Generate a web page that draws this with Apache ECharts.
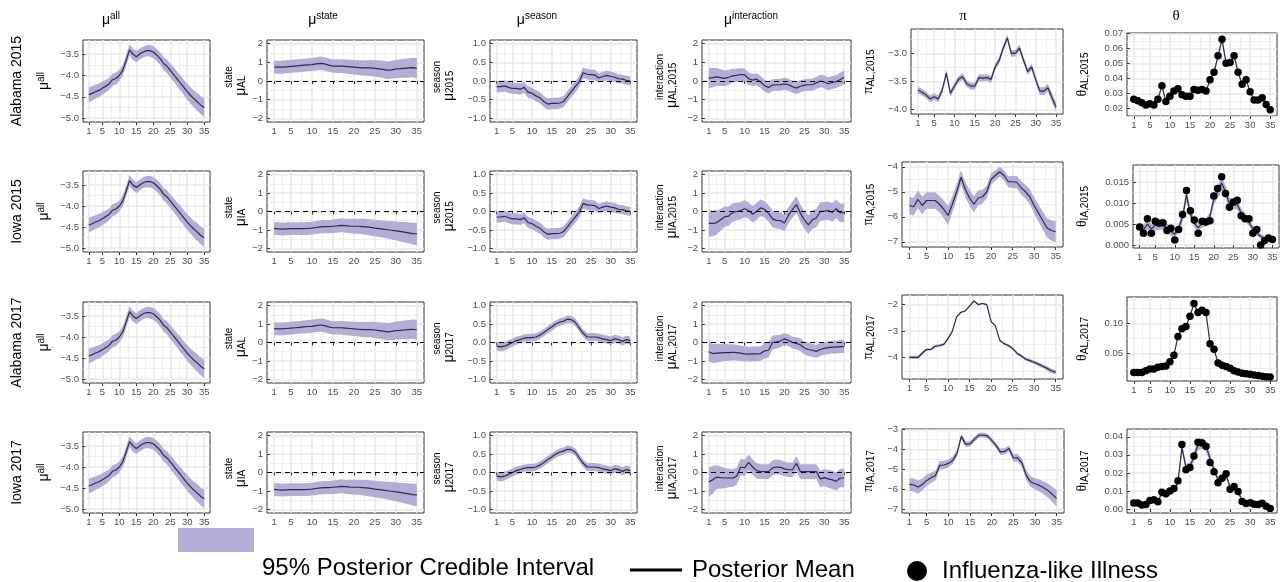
<!DOCTYPE html>
<html>
<head>
<meta charset="utf-8">
<script src="https://cdn.jsdelivr.net/npm/echarts@6/dist/echarts.min.js"></script>
<style>
html, body { margin: 0; padding: 0; background: #fff; }
#main { width: 1282px; height: 582px; }
</style>
</head>
<body>
<div id="main"></div>
<script>
// weeks of the season
const weeks = [1,2,3,4,5,6,7,8,9,10,11,12,13,14,15,16,17,18,19,20,21,22,23,24,25,26,27,28,29,30,31,32,33,34,35];
const xTicks = [1, 5, 10, 15, 20, 25, 30, 35];

// mu all (same in every row)
const muAll = [-4.45,-4.42,-4.38,-4.35,-4.30, -4.25,-4.20,-4.10,-4.07,-4.00, -3.88,-3.65,-3.40,-3.50,-3.56,
  -3.50,-3.45,-3.42,-3.42,-3.45, -3.52,-3.60,-3.72,-3.78,-3.88, -3.98,-4.08,-4.18,-4.28,-4.38, -4.47,-4.55,-4.62,-4.70,-4.75];
const muAllHw = [.17,.17,.16,.16,.15, .15,.14,.14,.14,.13, .13,.13,.13,.13,.13, .13,.13,.13,.14,.14,
  .14,.15,.15,.16,.16, .17,.17,.18,.18,.19, .19,.20,.21,.21,.22];

// mu state
const stateAL = [.75,.74,.74,.76,.78, .80,.82,.85,.87,.88, .92,.95,.92,.85,.80, .80,.80,.78,.76,.74,
  .72,.70,.70,.70,.68, .65,.62,.58,.60,.65, .66,.68,.70,.72,.68];
const stateALHw = [.35,.35,.35,.35,.35, .35,.35,.35,.35,.35, .35,.36,.36,.36,.36, .37,.37,.38,.38,.39,
  .40,.41,.42,.43,.44, .45,.46,.47,.48,.49, .50,.51,.52,.53,.55];
const stateIA = [-.92,-.94,-.96,-.94,-.93, -.93,-.93,-.93,-.92,-.90, -.87,-.84,-.82,-.82,-.80, -.78,-.75,-.77,-.79,-.80,
  -.80,-.82,-.84,-.86,-.90, -.93,-.96,-.99,-1.02,-1.05, -1.08,-1.12,-1.16,-1.20,-1.22];
const stateIAHw = [.35,.35,.35,.35,.35, .35,.35,.35,.35,.35, .35,.36,.36,.36,.37, .37,.38,.38,.39,.40,
  .41,.42,.43,.44,.45, .46,.47,.48,.50,.51, .53,.55,.57,.59,.61];

// mu season
const season15 = [-.15,-.15,-.13,-.17,-.20, -.20,-.22,-.17,-.30,-.33, -.40,-.45,-.55,-.62,-.60, -.60,-.59,-.55,-.42,-.28,
  -.15,-.02,.22,.18,.17, .16,.08,.12,.15,.12, .10,.06,.05,.02,.00];
const season15Hw = [.15,.15,.15,.15,.15, .15,.15,.15,.15,.15, .15,.15,.15,.15,.15, .15,.15,.15,.15,.15,
  .15,.15,.14,.14,.14, .14,.13,.13,.13,.13, .13,.12,.12,.12,.12];
const season17 = [-.10,-.12,-.10,-.05,.00, .05,.08,.12,.13,.13, .15,.20,.27,.35,.42, .50,.55,.58,.63,.62,
  .55,.40,.25,.15,.15, .15,.13,.10,.08,.05, .10,.08,.03,.08,.05];
const season17Hw = [.12,.12,.12,.11,.11, .11,.10,.10,.10,.10, .10,.10,.10,.10,.10, .10,.10,.10,.10,.10,
  .10,.10,.10,.11,.11, .11,.11,.11,.11,.11, .11,.11,.11,.11,.11];

// mu interaction
const interAL15 = [.15,.18,.22,.18,.14, .20,.28,.30,.35,.33, .12,.05,.10,-.05,-.25, -.35,-.22,-.20,-.20,-.15,
  -.20,-.30,-.38,-.28,-.22, -.20,-.20,-.10,.00,-.05, -.15,-.08,-.03,.08,.20];
const interAL15Hw = [.55,.52,.48,.45,.42, .40,.38,.36,.35,.34, .33,.32,.32,.32,.32, .32,.32,.32,.32,.32,
  .32,.32,.32,.32,.32, .32,.32,.33,.33,.34, .34,.35,.35,.36,.37];
const interIA15 = [-.65,-.65,-.60,-.45,-.28, -.25,-.05,.00,.05,.15, .05,-.15,.00,.20,.12, -.10,-.40,-.48,-.50,-.62,
  -.20,.10,.38,-.10,-.45, -.72,-.45,-.35,.00,.02, .05,-.05,.15,-.08,-.05];
const interIA15Hw = [.72,.70,.65,.60,.55, .52,.50,.48,.47,.46, .45,.45,.45,.45,.45, .45,.45,.45,.45,.45,
  .45,.45,.45,.48,.50, .50,.50,.50,.50,.50, .50,.50,.50,.50,.50];
const interAL17 = [-.50,-.60,-.58,-.56,-.55, -.55,-.53,-.55,-.58,-.62, -.63,-.62,-.62,-.60,-.45, -.42,.00,.03,.08,.20,
  .12,.00,-.05,-.12,-.30, -.38,-.42,-.48,-.38,-.32, -.28,-.25,-.25,-.22,-.22];
const interAL17Hw = [.55,.52,.50,.48,.46, .45,.44,.43,.42,.41, .40,.40,.40,.40,.40, .40,.38,.36,.34,.32,
  .32,.32,.33,.34,.35, .35,.35,.35,.35,.35, .35,.35,.35,.35,.35];
const interIA17 = [-.50,-.40,-.25,-.28,-.30, -.30,-.30,-.20,.30,.25, .55,.30,.10,.05,.05, .05,.25,.30,.28,.20,
  .15,.15,.50,.05,.05, .05,.05,.05,-.35,-.28, -.35,-.40,-.48,-.30,-.30];
const interIA17Hw = [.80,.75,.65,.60,.55, .50,.48,.46,.45,.44, .43,.42,.42,.40,.40, .40,.40,.40,.40,.40,
  .40,.40,.40,.40,.40, .40,.40,.40,.45,.45, .48,.50,.50,.50,.50];

// pi
const piAL15 = [-3.65,-3.69,-3.74,-3.81,-3.77, -3.81,-3.65,-3.35,-3.71,-3.58, -3.46,-3.41,-3.54,-3.58,-3.58,
  -3.43,-3.44,-3.43,-3.46,-3.24, -3.12,-2.90,-2.72,-3.00,-2.99, -2.90,-3.12,-3.32,-3.24,-3.47, -3.67,-3.67,-3.61,-3.79,-3.96];
const piAL15Hw = [.06,.06,.06,.06,.06, .06,.06,.06,.06,.06, .06,.06,.06,.06,.06, .06,.06,.06,.06,.06,
  .06,.06,.06,.06,.06, .06,.06,.06,.06,.06, .07,.07,.07,.08,.08];
const piIA15 = [-5.55,-5.60,-5.30,-5.55,-5.35, -5.35,-5.35,-5.50,-5.70,-5.95, -5.50,-5.00,-4.42,-4.90,-5.25,
  -5.50,-5.25,-5.20,-5.00,-4.50, -4.35,-4.20,-4.35,-4.60,-4.60, -4.62,-4.85,-5.00,-5.20,-5.55, -5.85,-6.15,-6.45,-6.55,-6.60];
const piIA15Hw = [.35,.35,.35,.35,.33, .33,.33,.33,.35,.38, .33,.30,.28,.30,.32, .32,.30,.28,.25,.22,
  .20,.20,.20,.22,.24, .25,.26,.28,.30,.32, .34,.36,.38,.40,.42];
const piAL17 = [-4.00,-4.00,-4.00,-3.84,-3.70, -3.70,-3.58,-3.55,-3.51,-3.29, -3.01,-2.47,-2.30,-2.25,-2.07,
  -1.87,-2.01,-1.97,-2.01,-2.65, -2.81,-3.35,-3.48,-3.55,-3.66, -3.84,-3.94,-4.06,-4.12,-4.18, -4.25,-4.33,-4.41,-4.50,-4.55];
const piAL17Hw = [.06,.06,.06,.06,.05, .05,.05,.05,.05,.04, .04,.03,.03,.03,.03, .03,.03,.03,.03,.03,
  .03,.04,.04,.05,.05, .05,.06,.06,.06,.07, .07,.07,.08,.08,.08];
const piIA17 = [-5.75,-5.78,-5.88,-5.75,-5.55, -5.42,-5.32,-4.80,-4.78,-4.70, -4.55,-4.20,-3.35,-3.75,-3.72,
  -3.50,-3.30,-3.28,-3.32,-3.55, -3.80,-4.12,-4.10,-3.95,-4.42, -4.42,-4.68,-5.30,-5.62,-5.72, -5.80,-5.92,-6.05,-6.25,-6.45];
const piIA17Hw = [.32,.32,.32,.30,.28, .26,.24,.22,.20,.20, .18,.16,.14,.14,.14, .13,.12,.12,.12,.13,
  .14,.16,.16,.16,.18, .20,.22,.24,.26,.28, .30,.32,.35,.38,.42];

// theta (posterior mean) and observed ILI
const thetaAL15 = [.026,.025,.0238,.0222,.023, .0222,.026,.035,.0245,.028, .0315,.033,.029,.028,.028,
  .0325,.032,.0325,.0315,.039, .044,.055,.066,.050,.0505, .055,.044,.036,.039,.031, .0255,.0255,.027,.0225,.019];
const thetaAL15Hw = [.0008,.0008,.0008,.0008,.0008, .0008,.0008,.0010,.0008,.0008, .0008,.0009,.0008,.0008,.0008,
  .0009,.0009,.0009,.0009,.0010, .0011,.0013,.0016,.0013,.0013, .0013,.0011,.0010,.0010,.0009, .0008,.0008,.0008,.0008,.0008];
const iliAL15 = [.026,.025,.0238,.0222,.023, .0222,.026,.035,.0245,.028, .0315,.033,.029,.028,.028,
  .0325,.032,.0325,.0315,.039, .044,.055,.066,.050,.0505, .055,.044,.036,.039,.031, .0255,.0255,.027,.0225,.019];

const thetaIA15 = [.0039,.0037,.0050,.0039,.0047, .0047,.0047,.0041,.0033,.0026, .0041,.0067,.0120,.0074,.0052,
  .0041,.0052,.0055,.0067,.0110, .0127,.0148,.0127,.0099,.0099, .0097,.0077,.0067,.0055,.0039, .0029,.0021,.0016,.0014,.0014];
const thetaIA15Hw = [.0012,.0012,.0012,.0012,.0012, .0011,.0011,.0010,.0010,.0009, .0010,.0012,.0016,.0012,.0010,
  .0009,.0010,.0010,.0011,.0014, .0015,.0017,.0015,.0013,.0013, .0012,.0011,.0010,.0009,.0008, .0007,.0006,.0005,.0005,.0005];
const iliIA15 = [.0043,.0028,.0063,.0028,.0057, .0052,.0053,.0035,.0040,.0012, .0037,.0073,.0130,.0082,.0060,
  .0028,.0057,.0055,.0058,.0117, .0135,.0163,.0123,.0090,.0102, .0107,.0070,.0063,.0063,.0028, .0037,.0000,.0010,.0017,.0013];

const thetaAL17 = [.018,.018,.018,.021,.024, .024,.027,.028,.029,.036, .047,.078,.091,.095,.112,
  .133,.118,.122,.118,.066, .057,.034,.030,.028,.025, .021,.019,.017,.016,.015, .014,.013,.012,.011,.0105];
const thetaAL17Hw = [.001,.001,.001,.001,.001, .001,.001,.001,.001,.0012, .0015,.002,.0025,.0025,.0028,
  .003,.0028,.0028,.0028,.002, .0018,.0012,.001,.001,.001, .001,.001,.001,.001,.001, .001,.001,.001,.001,.001];
const iliAL17 = [.018,.018,.018,.021,.024, .024,.027,.028,.029,.036, .047,.078,.091,.095,.112,
  .133,.118,.122,.118,.066, .057,.034,.030,.028,.025, .021,.019,.017,.016,.015, .014,.013,.012,.011,.0105];

const thetaIA17 = [.0032,.0031,.0028,.0032,.0039, .0044,.0049,.0082,.0083,.0090, .0105,.0148,.0340,.0230,.0236,
  .0290,.0356,.0363,.0350,.0279, .0219,.0160,.0163,.0190,.0120, .0120,.0092,.0050,.0036,.0033, .0030,.0027,.0024,.0019,.0016];
const thetaIA17Hw = [.0008,.0008,.0008,.0008,.0008, .0008,.0008,.0010,.0010,.0010, .0012,.0015,.0030,.0020,.0020,
  .0025,.0030,.0030,.0030,.0025, .0020,.0015,.0015,.0018,.0012, .0012,.0010,.0008,.0007,.0006, .0006,.0006,.0005,.0005,.0005];
const iliIA17 = [.0033,.0033,.0022,.0025,.0047, .0052,.0040,.0093,.0085,.0100, .0113,.0157,.0357,.0217,.0230,
  .0293,.0370,.0365,.0348,.0258, .0207,.0145,.0170,.0195,.0110, .0125,.0097,.0042,.0030,.0035, .0027,.0025,.0032,.0015,.0003];

// y tick labels
const muAllTicks = [-5.0, -4.5, -4.0, -3.5];
const stateTicks = [-2, -1, 0, 1, 2];
const seasonTicks = [-1.0, -0.5, 0.0, 0.5, 1.0];
const interTicks = [-2, -1, 0, 1, 2];
const piTicks = [[-4.0, -3.5, -3.0], [-7, -6, -5, -4], [-4, -3, -2], [-7, -6, -5, -4, -3]];
const thetaTicks = [[0.02, 0.03, 0.04, 0.05, 0.06, 0.07], [0.000, 0.005, 0.010, 0.015], [0.05, 0.10], [0.00, 0.01, 0.02, 0.03, 0.04]];

const rowNames = ['Alabama 2015', 'Iowa 2015', 'Alabama 2017', 'Iowa 2017'];
const rowState = ['AL', 'IA', 'AL', 'IA'];
const rowYear = ['2015', '2015', '2017', '2017'];

const BAND = '#b3aed8';
const LINE = '#2e2c44';
const FONT = 'Liberation Sans';

// panel frames (pixels)
const colLeft = [83, 267, 490, 702];
const colRight = [210, 424, 637, 851];
const rowTop = [40, 171, 302, 432];
const rowBottom = [122, 252, 383, 513];
const piBox = [[911, 29, 1063, 114], [902, 162, 1063, 247], [902, 295, 1063, 379], [902, 429, 1064, 513]];
const thetaBox = [[1127, 33, 1277, 116], [1133, 165, 1279, 248], [1127, 297, 1277, 381], [1127, 429, 1277, 513]];
const nameEdge = [52, 248, 455, 678, 876, 1090];
const piRange = [[-4.08, -2.56], [-7.21, -3.81], [-4.81, -1.65], [-7.18, -2.98]];
const thetaRange = [[0.0149, 0.0702], [-0.0007, 0.0191], [0.0039, 0.144], [-0.0022, 0.0443]];
const piDec = [1, 0, 0, 0];
const thetaDec = [2, 3, 2, 2];

const stateData = { AL: [stateAL, stateALHw], IA: [stateIA, stateIAHw] };
const seasonData = { '2015': [season15, season15Hw], '2017': [season17, season17Hw] };
const interData = [[interAL15, interAL15Hw], [interIA15, interIA15Hw], [interAL17, interAL17Hw], [interIA17, interIA17Hw]];
const piData = [[piAL15, piAL15Hw], [piIA15, piIA15Hw], [piAL17, piAL17Hw], [piIA17, piIA17Hw]];
const thetaData = [[thetaAL15, thetaAL15Hw, iliAL15], [thetaIA15, thetaIA15Hw, iliIA15],
  [thetaAL17, thetaAL17Hw, iliAL17], [thetaIA17, thetaIA17Hw, iliIA17]];

function minorOf(t, lo, hi) {
  const all = [2 * t[0] - t[1]].concat(t, [2 * t[t.length - 1] - t[t.length - 2]]);
  const out = [];
  for (let i = 0; i < all.length - 1; i++) {
    const m = (all[i] + all[i + 1]) / 2;
    if (m > lo && m < hi) out.push(m);
  }
  return out;
}
const fmt = d => v => v.toFixed(d).replace('-', '\u2212');

const panels = [];
for (let r = 0; r < 4; r++) {
  const st = rowState[r], yr = rowYear[r];
  const box = c => [colLeft[c], rowTop[r], colRight[c], rowBottom[r]];
  panels.push({ c: 0, box: box(0), mean: muAll, hw: muAllHw, ticks: muAllTicks, range: [-5.09, -3.17], dec: 1,
    name: '{mu|μ}{sup|all}' });
  panels.push({ c: 1, box: box(1), mean: stateData[st][0], hw: stateData[st][1], ticks: stateTicks, range: [-2.2, 2.2], dec: 0, zero: true,
    name: '{pad|}{sup2|state}\n{mu2|μ}{sub|' + st + '}' });
  panels.push({ c: 2, box: box(2), mean: seasonData[yr][0], hw: seasonData[yr][1], ticks: seasonTicks, range: [-1.1, 1.1], dec: 1, zero: true,
    name: '{pad|}{sup2|season}\n{mu2|μ}{sub|' + yr + '}' });
  panels.push({ c: 3, box: box(3), mean: interData[r][0], hw: interData[r][1], ticks: interTicks, range: [-2.2, 2.2], dec: 0, zero: true,
    name: '{pad|}{sup2|interaction}\n{mu2|μ}{sub|' + st + ',' + yr + '}' });
  panels.push({ c: 4, box: piBox[r], mean: piData[r][0], hw: piData[r][1], ticks: piTicks[r], range: piRange[r], dec: piDec[r],
    name: '{gr|π}{sub|' + st + ',' + yr + '}' });
  panels.push({ c: 5, box: thetaBox[r], mean: thetaData[r][0], hw: thetaData[r][1], ili: thetaData[r][2], ticks: thetaTicks[r],
    range: thetaRange[r], dec: thetaDec[r], name: '{gr|θ}{sub|' + st + ',' + yr + '}' });
}

const nameRich = {
  mu: { fontSize: 14, fontFamily: FONT, color: '#000', lineHeight: 16, align: 'left' },
  mu2: { fontSize: 14, fontFamily: FONT, color: '#000', lineHeight: 12, align: 'left' },
  gr: { fontSize: 14, fontFamily: 'Liberation Serif', color: '#000', lineHeight: 16, align: 'left' },
  sup: { fontSize: 10, fontFamily: FONT, color: '#000', lineHeight: 9, verticalAlign: 'top', align: 'left' },
  sup2: { fontSize: 10, fontFamily: FONT, color: '#000', lineHeight: 8, align: 'left' },
  sub: { fontSize: 10, fontFamily: FONT, color: '#000', lineHeight: 12, verticalAlign: 'bottom', align: 'left' },
  pad: { width: 8, align: 'left' }
};

function bandItem(params, api) {
  if (params.dataIndexInside !== 0) return;
  const n = params.dataInsideLength;
  const up = [], dn = [];
  for (let k = 0; k < n; k++) {
    up.push(api.coord([api.value(0, k), api.value(2, k)]));
    dn.push(api.coord([api.value(0, k), api.value(1, k)]));
  }
  return { type: 'polygon', shape: { points: up.concat(dn.reverse()) }, style: { fill: BAND } };
}

const grids = [], xAxes = [], yAxes = [], series = [];
panels.forEach((p, i) => {
  const [l, t, r, b] = p.box;
  grids.push({ left: l, top: t, width: r - l, height: b - t, show: true, borderColor: '#333', borderWidth: 1, backgroundColor: '#fff' });
  const xa = xAxes.length, ya = yAxes.length;
  xAxes.push(
    { gridIndex: i, type: 'value', min: -0.7, max: 36.7, position: 'bottom', axisLine: { show: false },
      axisTick: { customValues: xTicks, length: 3, lineStyle: { color: '#333' } },
      axisLabel: { customValues: xTicks, fontSize: 9.5, fontFamily: FONT, color: '#4d4d4d', margin: 4 },
      splitLine: { show: true, lineStyle: { color: '#e8e8e8', width: 1.5 } } },
    { gridIndex: i, type: 'value', min: -0.7, max: 36.7, position: 'bottom', axisLine: { show: false },
      axisTick: { show: false, customValues: minorOf(xTicks, -0.7, 36.7) }, axisLabel: { show: false },
      splitLine: { show: true, lineStyle: { color: '#ebebeb', width: 0.8 } } }
  );
  const [lo, hi] = p.range;
  yAxes.push(
    { gridIndex: i, type: 'value', min: lo, max: hi, position: 'left', axisLine: { show: false },
      axisTick: { customValues: p.ticks, length: 3, lineStyle: { color: '#333' } },
      axisLabel: { customValues: p.ticks, formatter: fmt(p.dec), fontSize: 9.5, fontFamily: FONT, color: '#4d4d4d', margin: 4 },
      splitLine: { show: true, lineStyle: { color: '#e8e8e8', width: 1.5 } },
      name: p.name, nameLocation: 'middle', nameRotate: 90, nameGap: l - nameEdge[p.c],
      nameTextStyle: { rich: nameRich } },
    { gridIndex: i, type: 'value', min: lo, max: hi, position: 'left', axisLine: { show: false },
      axisTick: { show: false, customValues: minorOf(p.ticks, lo, hi) }, axisLabel: { show: false },
      splitLine: { show: true, lineStyle: { color: '#ebebeb', width: 0.8 } } }
  );
  series.push({
    type: 'custom', name: '95% Posterior Credible Interval', xAxisIndex: xa, yAxisIndex: ya, silent: true, z: 2,
    renderItem: bandItem, encode: { x: 0, y: [1, 2] }, itemStyle: { color: BAND },
    data: weeks.map((w, k) => [w, p.mean[k] - p.hw[k], p.mean[k] + p.hw[k]])
  });
  const meanSeries = {
    type: 'line', name: 'Posterior Mean', xAxisIndex: xa, yAxisIndex: ya, silent: true, z: 3,
    symbol: 'none', emphasis: { disabled: true },
    data: weeks.map((w, k) => [w, p.mean[k]]),
    lineStyle: { color: LINE, width: 1.2 }, itemStyle: { color: LINE }
  };
  if (p.zero) {
    meanSeries.markLine = { silent: true, symbol: 'none', label: { show: false },
      lineStyle: { color: '#000', type: [5, 4], width: 1.2 }, data: [{ yAxis: 0 }] };
  }
  series.push(meanSeries);
  if (p.ili) {
    series.push({ type: 'scatter', name: 'Influenza-like Illness', xAxisIndex: xa, yAxisIndex: ya, silent: true, z: 4,
      data: weeks.map((w, k) => [w, p.ili[k]]), symbolSize: 7.5, itemStyle: { color: '#000', opacity: 1 } });
  }
});

// column titles and row labels
const titleRich = {
  mu: { fontSize: 14, fontFamily: FONT, fill: '#000', lineHeight: 18 },
  gr: { fontSize: 15, fontFamily: 'Liberation Serif', fill: '#000', lineHeight: 18 },
  sup: { fontSize: 10, fontFamily: FONT, fill: '#000', lineHeight: 18, verticalAlign: 'top' }
};
const colTitles = [
  { x: 111, y: 20, text: '{mu|μ}{sup|all}' },
  { x: 323, y: 20, text: '{mu|μ}{sup|state}' },
  { x: 537, y: 20, text: '{mu|μ}{sup|season}' },
  { x: 751, y: 20, text: '{mu|μ}{sup|interaction}' },
  { x: 963, y: 16, text: '{gr|π}' },
  { x: 1176, y: 16, text: '{gr|θ}' }
];
const graphics = colTitles.map(t => ({
  type: 'text', x: t.x, y: t.y, silent: true,
  style: { text: t.text, rich: titleRich, align: 'center', verticalAlign: 'middle', textAlign: 'center', textVerticalAlign: 'middle' }
}));
rowNames.forEach((n, r) => {
  graphics.push({
    type: 'text', x: 17, y: (rowTop[r] + rowBottom[r]) / 2, rotation: Math.PI / 2, silent: true,
    style: { text: n, font: '14px "Liberation Sans"', fill: '#000', align: 'center', verticalAlign: 'middle',
      textAlign: 'center', textVerticalAlign: 'middle' }
  });
});

const legendRich = pad => ({ t: { fontSize: 24, fontFamily: FONT, color: '#000', padding: pad } });
const option = {
  animation: false,
  backgroundColor: '#fff',
  grid: grids,
  xAxis: xAxes,
  yAxis: yAxes,
  series: series,
  graphic: graphics,
  legend: [
    { data: [{ name: '95% Posterior Credible Interval', icon: 'rect', itemStyle: { color: BAND } }],
      left: 178, top: 528, itemWidth: 76, itemHeight: 24, padding: 0, selectedMode: false,
      formatter: n => '{t|' + n + '}', textStyle: { rich: legendRich([56, 0, 0, 3]) } },
    { data: [{ name: 'Posterior Mean', icon: 'rect', itemStyle: { color: '#000' } }],
      left: 630, top: 558, itemWidth: 52, itemHeight: 3, padding: 0, selectedMode: false,
      formatter: n => '{t|' + n + '}', textStyle: { rich: legendRich([0, 0, 0, 5]) } },
    { data: [{ name: 'Influenza-like Illness', icon: 'circle', itemStyle: { color: '#000' } }],
      left: 907, top: 559, itemWidth: 20, itemHeight: 20, padding: 0, selectedMode: false,
      formatter: n => '{t|' + n + '}', textStyle: { rich: legendRich([0, 0, 0, 10]) } }
  ]
};

const chart = echarts.init(document.getElementById('main'));
chart.setOption(option);
</script>
</body>
</html>
